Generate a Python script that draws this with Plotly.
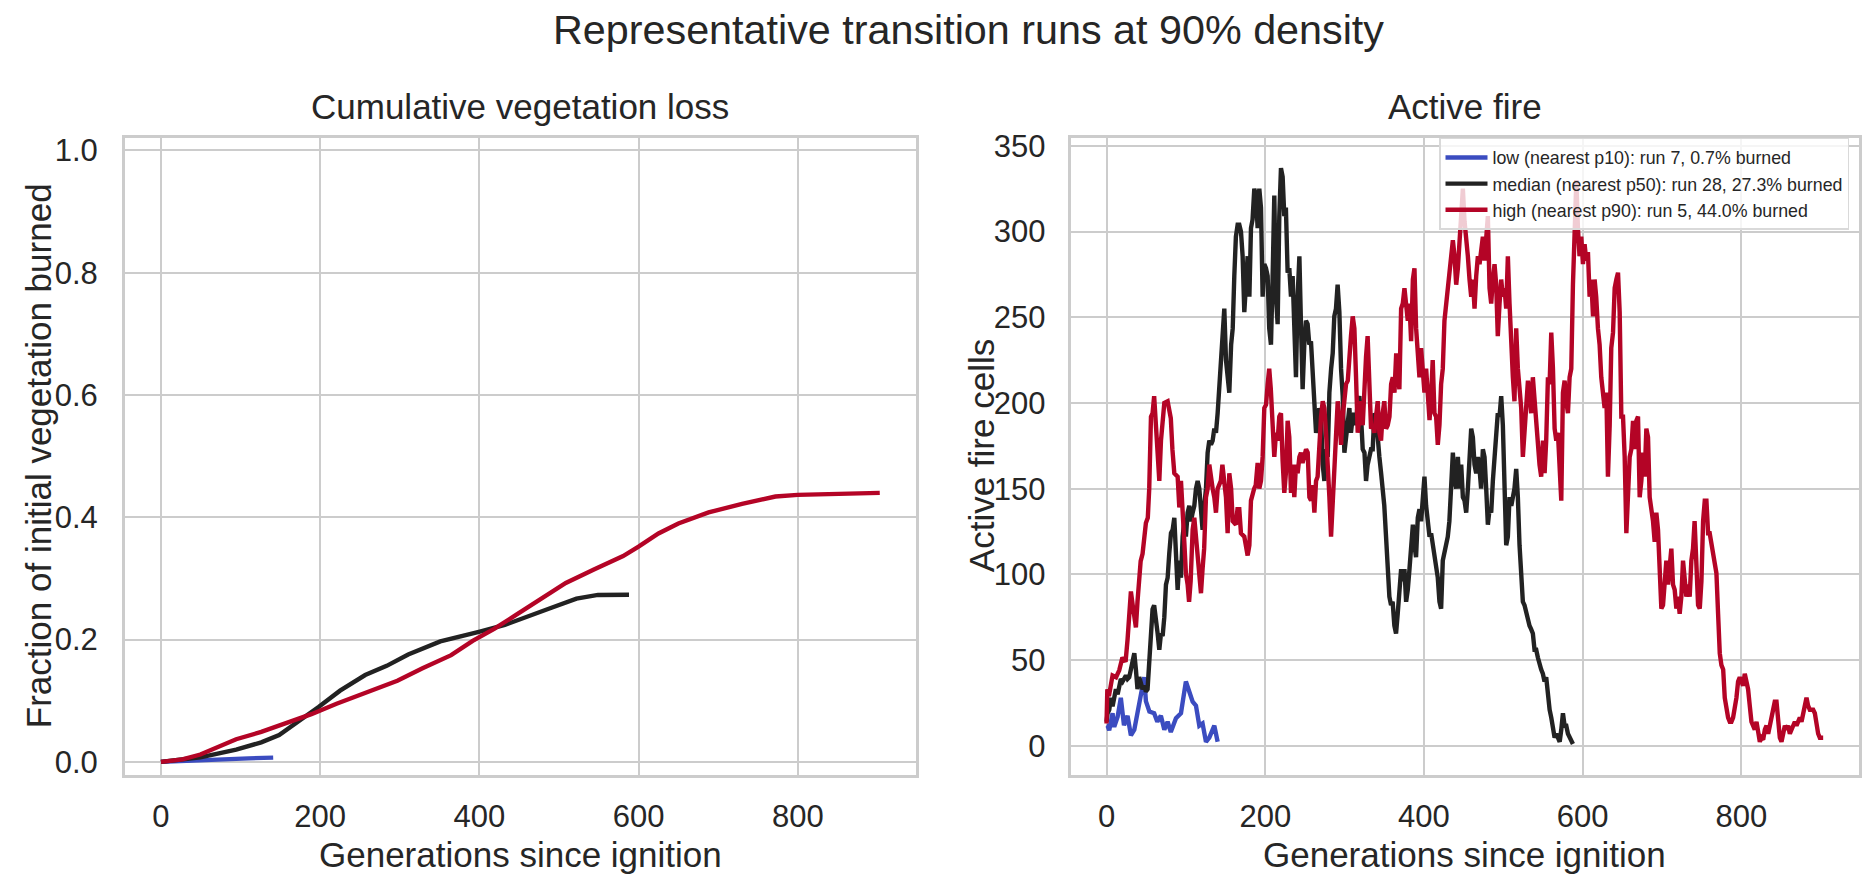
import plotly.graph_objects as go

# ---------------- data ----------------
# Left panel: cumulative fraction of initial vegetation burned
cum_low_gen = [0, 30, 70, 110, 141]
cum_low_val = [0.0, 0.002, 0.004, 0.0058, 0.007]

cum_med_gen = [0, 49.5, 94.5, 126, 148.5, 171, 198, 225, 256.6, 283.6, 310.6, 351, 373.6,
               400.6, 432, 463.6, 490.6, 522, 549, 588]
cum_med_val = [0.0, 0.0075, 0.02, 0.032, 0.044, 0.064, 0.0897, 0.1165, 0.142, 0.157, 0.1756,
               0.197, 0.2035, 0.213, 0.224, 0.24, 0.252, 0.267, 0.273, 0.2733]

cum_high_gen = [0, 27, 49.5, 72, 94.5, 126, 157.5, 189, 220.6, 265.6, 297, 328.6, 364.6, 391.6,
                418.6, 445.6, 486, 508.6, 544.6, 580.6, 600, 625, 650, 688, 730, 772, 800, 839, 903]
cum_high_val = [0.0, 0.004, 0.012, 0.025, 0.037, 0.049, 0.064, 0.078, 0.095, 0.1165, 0.1326,
                0.153, 0.1745, 0.198, 0.2175, 0.24, 0.275, 0.2926, 0.315, 0.3366, 0.352, 0.3735,
                0.39, 0.408, 0.422, 0.434, 0.4367, 0.438, 0.44]

# Right panel: active fire cells
fire_low_gen = [0, 1.3, 3.4, 7.6, 9.7, 14, 18, 20, 22, 26.5, 30.7, 35, 39, 43, 47.5, 49.6, 54,
                60, 64, 68.5, 72.8, 77, 81, 87.5, 93.8, 100, 104, 108.5, 112.7, 116.9, 121,
                125.3, 129.5, 135.8, 140]
fire_low_val = [12, 11.7, 9, 19, 11, 17, 28, 19, 12, 17.5, 6, 9.4, 19, 30, 40, 26, 20,
                19, 14, 17.5, 9.4, 14, 8, 16, 19, 37.5, 31.6, 25.7, 23.4, 11.7, 13,
                2.3, 4.7, 11.7, 2.3]

fire_med_gen = [0, 1.3, 3.4, 5.5, 7.6, 9.7, 11.8, 14, 16, 18, 20.2, 22.3, 24.4, 26.5, 28.6,
                30.7, 32.8, 35, 37, 39, 41.2, 43.3, 45.4, 47.5, 49.6, 51.7, 53.8, 56, 58, 60,
                62.3, 64.4, 66.5, 68.6, 70.7, 72.8, 74.9, 77, 79, 81.2, 83.3, 85.4, 87.5, 89.6,
                91.7, 93.8, 95.9, 98, 100, 102.2, 104.3, 106.4, 108.5, 110.6, 112.7, 114.8,
                116.9, 119, 121, 123.2, 125.3, 127.4, 129.5, 131.6, 133.7, 135.8, 137.9, 140,
                142, 144, 146.3, 148.4, 150.5, 152.6, 154.7, 157, 159, 161, 163, 165.2,
                167.3, 169.4, 171.5, 173.6, 175.7, 177.8, 180, 182, 184, 186.2, 188.3, 190.4,
                192.5, 194.6, 196.7, 198.8, 200.9, 203, 205, 207.2, 209.3, 211.4, 213.5, 215.6,
                217.7, 219.8, 221.9, 224, 226, 228.2, 230.3, 232.4, 234.5, 236.6, 238.7, 240.8,
                243, 245, 247.1, 249.2, 251.3, 253.4, 255.5, 257.6, 259.7, 261.8, 264, 266, 268,
                270.3, 272.4, 274.5, 276.6, 278.7, 280.8, 283, 285, 287, 289.1, 291.2, 293.4,
                295.5, 297.6, 299.7, 301.8, 304, 306, 308, 310.2, 312.3, 314.4, 316.5, 318.6,
                320.7, 322.8, 325, 327, 329, 331.2, 333.3, 335.4, 337.5, 339.6, 341.7, 343.8,
                346, 348, 350, 352.2, 354.3, 356.4, 358.5, 360.5, 362.7, 364.8, 366.9, 369,
                371.2, 373.3, 375.4, 377.5, 379.6, 381.7, 383.8, 386, 388, 390, 392.2, 394.3,
                396.4, 398.5, 400.6, 402.7, 404.8, 407, 409, 411, 413.2, 415.3, 417.4, 419.5,
                421.6, 423.7, 425.8, 428, 430, 432, 434.3, 436.4, 438.5, 440.6, 442.7, 444.8,
                446.9, 449, 451.1, 453.2, 455.3, 457.4, 459.5, 461.6, 463.7, 465.8, 467.9, 470,
                472, 474.2, 476.3, 478.4, 480.5, 482.6, 484.7, 486.8, 488.9, 491, 493, 495.2,
                497.3, 499.4, 501.5, 503.6, 505.7, 507.8, 510, 512, 514, 516.2, 518.3, 520.4,
                522.5, 524.6, 526.7, 528.8, 531, 533, 535, 537.2, 539.3, 541.4, 543.5, 545.6,
                547.7, 549.8, 551.9, 554, 556, 558.3, 560.4, 562.5, 564.6, 566.7, 568.8, 571,
                573, 575.1, 577.2, 579.3, 581.4, 583.5, 585.6, 587.7]
fire_med_val = [14, 19, 21, 28, 23, 30, 33, 30, 35, 39, 37.5, 40, 41, 39, 40,
                44.5, 49, 54, 44.5, 33, 40, 35, 33, 35, 31.6, 33, 49, 63, 79.6, 82,
                75, 65.5, 56, 65.5, 64, 75, 94, 98, 112, 124, 126, 133, 112, 91,
                108, 98, 122, 131, 122, 136, 140, 131, 136, 140, 150, 154.5,
                150, 136, 126, 140, 150, 171, 178, 175.6, 178, 185, 182.6, 194,
                211, 229, 243.5, 255, 225, 211, 206, 234, 243.5, 274, 297, 304,
                304, 300, 285.6, 253, 267, 285.6, 262, 302, 307, 325, 321, 302,
                325, 314, 262, 281, 278.6, 274, 243.5, 234, 274, 321, 262, 246,
                309, 337, 332, 309, 314, 276, 278.6, 262, 274, 239, 215, 262,
                285.6, 246, 208, 234, 248, 246, 234, 236, 220, 201, 182.6, 187, 197,
                192, 164, 154.5, 173, 168.5, 206, 220, 229, 250.5, 255, 269, 253,
                220, 204, 171, 180, 192, 197, 182.6, 192, 194, 187, 201, 204,
                192, 173, 171, 154.5, 164, 168.5, 173, 173, 194, 192, 178, 168.5,
                159, 150, 140, 122, 98, 87, 82, 84, 70, 65.5, 77, 94,
                103, 96, 103, 84, 91, 103, 117, 129, 117, 110, 133, 138,
                131, 143, 157, 140, 129, 122, 124, 117, 112, 103, 98, 84,
                80, 108, 112, 117, 122, 131, 157, 171, 154.5, 150, 168.5, 150,
                164, 145, 143, 136, 150, 168.5, 185, 180, 164, 159, 168.5, 161.5,
                150, 173, 168.5, 150, 129, 138, 136, 154.5, 168.5, 180, 194, 192,
                204, 187, 154.5, 117, 122, 145, 140, 145, 150, 161.5, 145, 117,
                98, 84, 82, 77, 75, 70, 68, 65.5, 56, 56, 51.5, 47,
                44.5, 42, 37.5, 40, 28, 21, 16.4, 11.7, 4.7, 7, 4.7, 2.3,
                9.4, 19, 11.7, 11.7, 7, 4.7, 2.3, 1]

fire_high_gen = [0, 1, 3, 7.6, 12, 16, 20, 24, 26.5, 28.6, 30.7, 33, 35, 37, 39, 41, 43, 45.4,
                 47.5, 49.6, 52, 53.8, 56, 58, 60, 62, 64.4, 66.5, 68.6, 70.7, 72.8, 77, 81, 83,
                 85.4, 89.6, 91.7, 93.8, 96, 98, 100, 102.2, 104, 106, 108.5, 110.6, 112.7, 115,
                 117, 119, 121, 123, 125.3, 127.4, 129.5, 131.6, 133.7, 135.8, 137.9, 140, 144,
                 146, 148, 150.5, 152.6, 154.7, 157, 159, 163, 165,
                 167.3, 169.4, 173.6, 177.8, 180, 182, 186, 188, 190.4, 192.5, 194.6, 196.7,
                 198.8, 201, 203, 205, 207, 209.3, 211.4, 213.5, 215.6, 217.7, 219.8, 221.9, 224,
                 226, 228.2, 230.3, 232.4, 234.5, 236.6, 238.7, 240.8, 243, 245, 247, 251.4,
                 253.5, 255.6, 257.7, 259.8, 261.9, 264, 266, 268.2, 270.3, 272.4, 274.5, 276.6,
                 278.7, 280.8, 282.9, 285, 287, 289, 291.3, 293.4, 295.5, 297.6, 299.7, 301.8,
                 304, 306, 308, 310.2, 312.3, 314.4, 316.5, 318.6, 320.7, 322.8, 324.9, 327, 329,
                 331.2, 333.3, 335.4, 337.5, 339.6, 341.7, 343.8, 345.9, 348, 350, 352.2, 354.3,
                 356.5, 358.6, 360.7, 362.8, 365, 367, 369, 371.2, 373.3, 375.4, 377.5, 379.6,
                 381.7, 383.8, 386, 388, 390.1, 392.2, 394.3, 396.4, 398.5, 400.6, 402.7, 404.8,
                 407, 409, 411, 413.2, 415.3, 417.4, 419.5, 421.6, 423.7, 425.8, 428, 430, 432.2,
                 434.3, 436.4, 438.5, 440.6, 442.7, 444.8, 446.9, 449, 451.1, 453.2, 455.3, 457.4,
                 459.5, 461.6, 463.7, 465.8, 467.9, 470, 472, 474.2, 476.3, 478.4, 480.5, 482.6,
                 484.7, 486.8, 488.9, 491, 493, 495.2, 497.3, 499.4, 501.5, 503.6, 505.7, 507.8,
                 510, 512, 514, 516.2, 518.3, 520.4, 522.5, 524.6, 526.7, 528.8, 531, 533, 535,
                 537.2, 539.3, 541.4, 543.5, 545.6, 547.7, 549.9, 552, 554, 556.2, 558.3, 560.4,
                 562.5, 564.6, 566.7, 568.8, 570.9, 573, 575.1, 577.2, 579.3, 581.4, 583.5, 585.6,
                 587.7, 589.8, 592, 594, 596, 598.2, 600.3, 602.4, 604.5, 606.6, 608.7, 610.8,
                 613, 615, 617, 619.2, 621.3, 623.4, 625.5, 627.6, 629.8, 631.8, 634, 636, 638.2,
                 640.3, 642.4, 644.5, 646.6, 648.7, 650.8, 652.9, 655, 657.1, 659.2, 661.3, 663.4,
                 665.5, 667.6, 669.7, 671.8, 673.9, 676, 678.1, 680.2, 682.3, 684.4, 686.5, 688.6,
                 690.7, 692.8, 694.9, 697, 699.1, 701.2, 703.3, 705.4, 707.5, 709.6, 711.7, 713.8,
                 715.9, 718, 720, 722.2, 724.3, 726.4, 728.5, 730.6, 732.7, 734.8, 736.9, 739, 741,
                 743.3, 745.4, 747.5, 749.6, 751.7, 753.8, 755.9, 758, 760, 762.2, 764.3, 766.4,
                 768.5, 770.6, 772.7, 774.8, 777, 779, 781.1, 783.2, 785.3, 787.4, 789.5, 791.6,
                 793.7, 795.8, 797.9, 800, 802.1, 804.2, 806.3, 808.4, 810.5, 812.6, 814.7, 816.8,
                 819, 821, 823.2, 825.3, 827.4, 829.5, 831.6, 833.7, 835.8, 837.9, 842, 844.2,
                 846.3, 848.4, 850.5, 852.6, 854.7, 856.8, 858.9, 861, 863, 865.2, 867.3, 869.4,
                 871.5, 873.6, 875.7, 877.8, 880, 882, 884, 886.2, 888.3, 890.4, 892.5, 894.6,
                 896.7, 898.8, 903]
fire_high_val = [13, 33, 29, 41, 40, 44, 51.5, 49, 62, 75, 90, 82, 77, 69, 84, 100.6, 107.7, 112,
                 121.7, 130, 133, 150, 192, 194, 204, 187, 171, 154.5, 178, 192, 200, 201, 191, 173,
                 159, 157, 139, 154.5, 140, 119, 100.6, 94, 84, 96, 126, 133, 122, 108,
                 96, 89, 103, 115, 145, 150, 164, 154.5, 150, 145, 136, 150, 154.5,
                 164, 157, 145, 124, 159, 150, 131, 129, 138,
                 138, 124, 122, 111, 117, 143, 150, 152, 165, 150, 154.5, 168.5,
                 197, 199, 211, 220, 208, 182.6, 168.5, 182.6, 178, 192, 194, 166, 147.5,
                 159, 189.6, 180, 147.5, 164, 145, 164, 159, 168.5, 171, 165, 173,
                 171, 145, 143, 152, 136, 154.5, 157, 178, 192, 201, 197, 182.6,
                 168.5, 145, 122, 140, 164, 185, 201, 192, 175.6, 192, 206, 211,
                 213, 229, 239, 250.5, 243.5, 215, 182.6, 192, 201, 187, 215, 227, 239,
                 211, 185, 187, 182.6, 192, 201, 182.6, 178, 194, 201, 185, 187,
                 192, 211, 215, 206, 229, 215, 208, 255, 258, 267, 253, 248,
                 258, 236, 272, 278.6, 243.5, 225, 215, 232, 215, 206, 220, 201,
                 190, 204, 225, 194, 192, 175.6, 187, 211, 220, 248, 258, 267, 274,
                 285.6, 295, 285.6, 269, 278.6, 297, 304, 325, 306, 297, 285.6, 272,
                 262, 272, 255, 274, 285.6, 281, 288, 297, 283, 302, 309, 267,
                 258, 272, 281, 269, 239, 258, 272, 262, 267, 255, 285.6, 258,
                 225, 215, 201, 243.5, 220, 206, 197, 168.5, 187, 199, 213, 206, 194,
                 215, 201, 185, 173, 164, 157, 178, 159, 178, 215, 211, 241,
                 220, 185, 178, 182.6, 164, 143, 206, 213, 201, 194, 215, 220,
                 269, 297, 330, 302, 285.6, 297, 281, 292.6, 283, 288, 262, 272,
                 250.5, 272, 262, 243.5, 234, 215, 208, 197, 206, 157, 187, 232, 241,
                 267, 272, 276, 253, 192, 192, 168.5, 124, 147.5, 168.5, 173, 189.6,
                 173, 189.6, 192, 145, 154.5, 171, 157, 185, 180, 145, 138, 131,
                 119, 136, 126, 98, 80, 82, 94, 108, 94, 103, 115, 94,
                 91, 80, 87, 77, 87, 108, 96, 87, 94, 87, 108, 115, 131,
                 103, 82, 80, 96, 131, 143, 143, 124, 124, 117, 112, 103,
                 100.6, 77, 54, 47, 44.5, 28, 21, 16.4, 14, 14, 16.4, 21,
                 28, 37.5, 40, 37.5, 35, 42, 37.5, 33, 23.4, 14, 11.7, 9.4,
                 14, 7, 2.3, 4.7, 3.5, 9.4, 11.7, 7, 11.7, 16.4, 25.7, 25.7,
                 14, 4.7, 2.3, 7, 11.7, 9.4, 11.7, 7, 9.4, 11.7, 14, 11.7,
                 14, 16.4, 14, 19, 23.4, 28, 23.4, 21, 21, 21, 19, 11.7,
                 7, 4.7, 4.7]

series_names = ["low (nearest p10): run 7, 0.7% burned",
                "median (nearest p50): run 28, 27.3% burned",
                "high (nearest p90): run 5, 44.0% burned"]
series_colors = ["#3b4cc0", "#222222", "#b40426"]

x_ticks = [0, 200, 400, 600, 800]
left_y_ticks = [0.0, 0.2, 0.4, 0.6, 0.8, 1.0]
right_y_ticks = [0, 50, 100, 150, 200, 250, 300, 350]

# ---------------- figure ----------------
W, H = 1873, 886
FONT = "Liberation Sans, Arial, sans-serif"
TXT = "#262626"
GRID = "#cccccc"

fig = go.Figure()

cum_sets = [(cum_low_gen, cum_low_val), (cum_med_gen, cum_med_val), (cum_high_gen, cum_high_val)]
fire_sets = [(fire_low_gen, fire_low_val), (fire_med_gen, fire_med_val), (fire_high_gen, fire_high_val)]

for (gx, gy), name, col in zip(cum_sets, series_names, series_colors):
    fig.add_trace(go.Scatter(x=gx, y=gy, mode="lines", name=name, showlegend=False,
                             line=dict(color=col, width=4.4), xaxis="x", yaxis="y"))
for (gx, gy), name, col in zip(fire_sets, series_names, series_colors):
    fig.add_trace(go.Scatter(x=gx, y=gy, mode="lines", name=name, showlegend=True,
                             line=dict(color=col, width=4.4), xaxis="x2", yaxis="y2"))

xl = [125 / W, 915.7 / W]
xr = [1070.7 / W, 1859 / W]
yd = [1 - 778 / H, 1 - 130.7 / H]

common_axis = dict(showgrid=True, gridcolor=GRID, gridwidth=2, zeroline=False,
                   showline=True, linecolor=GRID, linewidth=3, mirror=True,
                   ticks="", tickfont=dict(size=31, color=TXT, family=FONT))

fig.update_layout(
    width=W, height=H, margin=dict(l=0, r=0, t=0, b=0),
    paper_bgcolor="white", plot_bgcolor="white",
    font=dict(family=FONT, color=TXT),
    xaxis=dict(domain=xl, range=[-45.15, 948.15], tickvals=x_ticks, anchor="y",
               ticklabelstandoff=12, **common_axis),
    yaxis=dict(domain=yd, range=[-0.021, 1.021], tickvals=left_y_ticks, tickformat=".1f",
               anchor="x", ticklabelstandoff=18, **common_axis),
    xaxis2=dict(domain=xr, range=[-45.15, 948.15], tickvals=x_ticks, anchor="y2",
                ticklabelstandoff=12, **common_axis),
    yaxis2=dict(domain=yd, range=[-16.9, 354.8], tickvals=right_y_ticks, anchor="x2",
                ticklabelstandoff=16, **common_axis),
    legend=dict(x=1439 / W, y=1 - 131 / H, xanchor="left", yanchor="top",
                itemwidth=42,
                bgcolor="rgba(255,255,255,0.8)", bordercolor="#d9d9d9", borderwidth=1.5,
                font=dict(size=17.8, color=TXT, family=FONT)),
)

ann = [
    dict(text="Representative transition runs at 90% density", x=969 / W, y=1 - 21 / H,
         size=41.3, angle=0),
    dict(text="Cumulative vegetation loss", x=(xl[0] + xl[1]) / 2, y=1 - 99 / H, size=35, angle=0),
    dict(text="Active fire", x=(xr[0] + xr[1]) / 2, y=1 - 99 / H, size=35, angle=0),
    dict(text="Generations since ignition", x=(xl[0] + xl[1]) / 2, y=1 - 859 / H, size=35, angle=0),
    dict(text="Generations since ignition", x=(xr[0] + xr[1]) / 2, y=1 - 859 / H, size=35, angle=0),
    dict(text="Fraction of initial vegetation burned", x=38 / W, y=(yd[0] + yd[1]) / 2, size=35, angle=-90),
    dict(text="Active fire cells", x=981 / W, y=(yd[0] + yd[1]) / 2, size=35, angle=-90),
]
for a in ann:
    fig.add_annotation(text=a["text"], x=a["x"], y=a["y"], xref="paper", yref="paper",
                       xanchor="center", yanchor="middle", showarrow=False, textangle=a["angle"],
                       font=dict(size=a["size"], color=TXT, family=FONT))

fig.write_html("out.html")
